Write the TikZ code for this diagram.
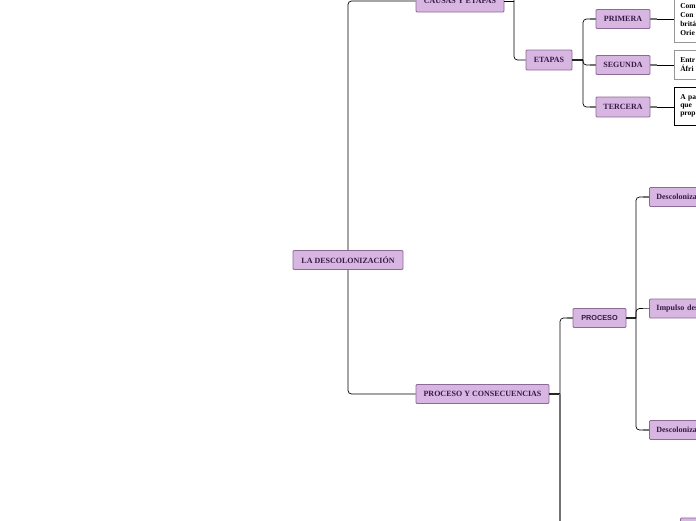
\documentclass[tikz,border=0pt]{standalone}
\usepackage{fontspec}
\setmainfont{Liberation Serif}
\newfontfamily\sansbold{Liberation Sans}
\definecolor{boxfill}{RGB}{216,182,226}
\definecolor{boxline}{RGB}{140,105,150}
\definecolor{boxtext}{RGB}{55,25,70}
\definecolor{linkgray}{RGB}{115,115,115}
\definecolor{notegray}{RGB}{150,150,150}
\begin{document}
\begin{tikzpicture}[x=1pt,y=-1pt,
  topic/.style={draw=boxline, fill=boxfill, line width=0.8pt, text=boxtext, rounded corners=1pt,
    font=\fontsize{8}{9}\selectfont\bfseries, inner sep=0pt, minimum height=19pt},
  leaf/.style={topic, anchor=west, text width=90pt, inner xsep=7pt, align=left},
  note/.style={draw=notegray, fill=white, line width=0.6pt, text=black,
    font=\fontsize{7.5}{9}\selectfont\bfseries, align=left, anchor=west,
    text width=80pt, inner xsep=6pt, inner ysep=3pt},
  link/.style={draw=black, line width=0.7pt, rounded corners=3.5pt},
  trunk/.style={draw=black!85, line width=1.5pt},
  stub/.style={draw=linkgray, line width=1.5pt}]
\useasboundingbox (0,0) rectangle (696,520);
\clip (0,0) rectangle (696,520);
\fill[white] (0,0) rectangle (696,520);

% junction coordinates
\coordinate (cj) at (514,1);
\coordinate (cup) at (514,-20);
\coordinate (ej) at (583,60);
\coordinate (pj) at (560,394);
\coordinate (pdown) at (560,540);
\coordinate (qj) at (636,318);

% nodes
\node[topic, minimum width=110pt] (root) at (348,260) {LA\ DESCOLONIZACIÓN};
\node[topic, minimum width=88pt, minimum height=22pt] (causas) at (460,1) {CAUSAS Y ETAPAS};
\node[topic, minimum width=46pt, minimum height=20pt] (etapas) at (549,60) {ETAPAS};
\node[topic, minimum width=54pt] (primera) at (623,19) {PRIMERA};
\node[topic, minimum width=54pt] (segunda) at (623,65) {SEGUNDA};
\node[topic, minimum width=54pt, minimum height=20pt] (tercera) at (623,107) {TERCERA};
\node[topic, minimum width=133pt] (proycons) at (482.5,394) {PROCESO Y CONSECUENCIAS};
\node[topic, minimum width=53pt, font=\fontsize{7.3}{9}\selectfont\sansbold\bfseries] (proceso) at (599.5,318) {PROCESO};
\node[leaf] (desc1) at (649,197) {Descolonización};
\node[leaf] (impulso) at (649,308.5) {Impulso descolonizador};
\node[leaf] (desc2) at (649,430) {Descolonización};
\node[leaf, anchor=north west] (bottombox) at (680,517.5) {};

\node[note, minimum height=44pt] (n1) at (674,20) {Com\\Con\\britá\\Orie};
\node[note, minimum height=29pt] (n2) at (674,64.5) {Entr\\Áfri};
\node[note, draw=black, minimum height=38pt, font=\fontsize{7.5}{8}\selectfont\bfseries] (n3) at (674,106) {A pa\\que\\prop};

% connectors
\draw[link] (root.north) |- (causas.west);
\draw[link] (root.south) |- (proycons.west);
\draw[link] (causas.east) -- (cj);
\draw[link] (cup) |- (etapas.west);
\draw[trunk] (etapas.east) -- (ej);
\draw[link] (ej) |- (primera.west);
\draw[link] (ej) |- (segunda.west);
\draw[link] (ej) |- (tercera.west);
\draw[link] (primera.east) -- (primera.east -| n1.west);
\draw[link] (segunda.east) -- (segunda.east -| n2.west);
\draw[link] (tercera.east) -- (tercera.east -| n3.west);
\draw[trunk] (proycons.east) -- (pj);
\draw[link] (pj) |- (proceso.west);
\draw[stub] (pj) -- (pdown);
\draw[trunk] (proceso.east) -- (qj);
\draw[link] (qj) |- (desc1.west);
\draw[link] (qj) |- (impulso.west);
\draw[link] (qj) |- (desc2.west);

% grey stubs at child ends
\foreach \n in {primera,segunda,tercera,proceso,desc1,impulso,desc2}{
  \draw[stub] (\n.west) -- ++(-6,0);
}
\foreach \a in {primera,segunda,tercera}{
  \draw[stub] (\a.east) -- ++(7,0);
}
\end{tikzpicture}
\end{document}
